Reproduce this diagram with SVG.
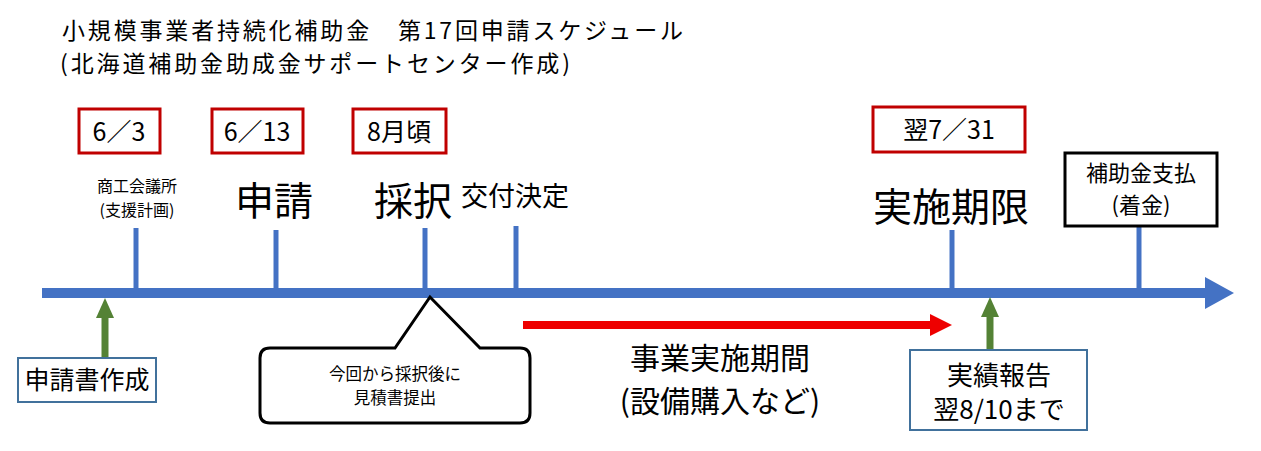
<svg xmlns="http://www.w3.org/2000/svg" width="1261" height="451" viewBox="0 0 1261 451">
<style>
text{font-family:"Noto Sans CJK JP","Noto Sans",sans-serif;fill:#000}
.red{fill:#fff;stroke:#c00000;stroke-width:3}
.tick{stroke:#4472c4;stroke-width:5}
.c{text-anchor:middle}
</style>
<rect width="1261" height="451" fill="#fff"/>
<text x="62" y="39" font-size="23" textLength="621" lengthAdjust="spacing">小規模事業者持続化補助金　第17回申請スケジュール</text>
<text x="60" y="72" font-size="23" textLength="510" lengthAdjust="spacing">(北海道補助金助成金サポートセンター作成)</text>
<g id="connectors">
<line x1="42" y1="293" x2="1207" y2="293" stroke="#4472c4" stroke-width="10"/>
<polygon points="1205,277 1234,293 1205,309" fill="#4472c4"/>
<line class="tick" x1="136" y1="228" x2="136" y2="293"/>
<line class="tick" x1="276" y1="230" x2="276" y2="293"/>
<line class="tick" x1="425" y1="228" x2="425" y2="293"/>
<line class="tick" x1="516" y1="226" x2="516" y2="293"/>
<line class="tick" x1="952" y1="230" x2="952" y2="293"/>
<line class="tick" x1="1139" y1="226" x2="1139" y2="293"/>
<line x1="105" y1="358" x2="105" y2="315" stroke="#548235" stroke-width="7"/>
<polygon points="96,318 105,298 114,318" fill="#548235"/>
<line x1="990" y1="351" x2="990" y2="314" stroke="#548235" stroke-width="7"/>
<polygon points="981,317 990,297 999,317" fill="#548235"/>
<line x1="523" y1="325" x2="932" y2="325" stroke="#e00" stroke-width="8"/>
<polygon points="930,314 952,325 930,336" fill="#e00"/>
</g>
<g id="d1"><rect class="red" x="79" y="109" width="81" height="44"/><text class="c" x="119" y="141" font-size="25">6／3</text></g>
<g id="d2"><rect class="red" x="212" y="109" width="91" height="44"/><text class="c" x="257" y="141" font-size="25">6／13</text></g>
<g id="d3"><rect class="red" x="353" y="109" width="93" height="44"/><text class="c" x="399" y="141" font-size="25">8月頃</text></g>
<g id="d4"><rect class="red" x="873" y="107" width="152" height="45"/><text class="c" x="949" y="139" font-size="25">翌7／31</text></g>
<g id="l1"><text class="c" x="137" y="192" font-size="16">商工会議所</text><text class="c" x="137" y="216" font-size="16">(支援計画)</text></g>
<g id="l2"><text class="c" x="274" y="215" font-size="39">申請</text></g>
<g id="l3"><text class="c" x="413" y="215" font-size="39">採択</text></g>
<g id="l4"><text x="461" y="206" font-size="27">交付決定</text></g>
<g id="l5"><text class="c" x="951" y="221" font-size="39">実施期限</text></g>
<g id="pay"><rect x="1065" y="153" width="152" height="73" fill="#fff" stroke="#000" stroke-width="3"/><text class="c" x="1141" y="181" font-size="22">補助金支払</text><text class="c" x="1141" y="213" font-size="22">(着金)</text></g>
<g id="apply"><rect x="18" y="358" width="138" height="44" fill="#fff" stroke="#41719c" stroke-width="2"/><text class="c" x="87" y="389" font-size="25">申請書作成</text></g>
<g id="callout"><path d="M270,348 H395 L430,297 L480,348 H520 Q530,348 530,358 V413 Q530,423 520,423 H270 Q260,423 260,413 V358 Q260,348 270,348 Z" fill="#fff" stroke="#000" stroke-width="3"/><text class="c" x="395" y="380" font-size="16.5">今回から採択後に</text><text class="c" x="395" y="404" font-size="16.5">見積書提出</text></g>
<g id="period"><text class="c" x="720" y="369" font-size="30">事業実施期間</text><text class="c" x="720" y="412" font-size="30">(設備購入など)</text></g>
<g id="report"><rect x="910" y="350" width="177" height="80" fill="#fff" stroke="#41719c" stroke-width="2"/><text class="c" x="999" y="385" font-size="26">実績報告</text><text class="c" x="999" y="419" font-size="26">翌8/10まで</text></g>
</svg>
